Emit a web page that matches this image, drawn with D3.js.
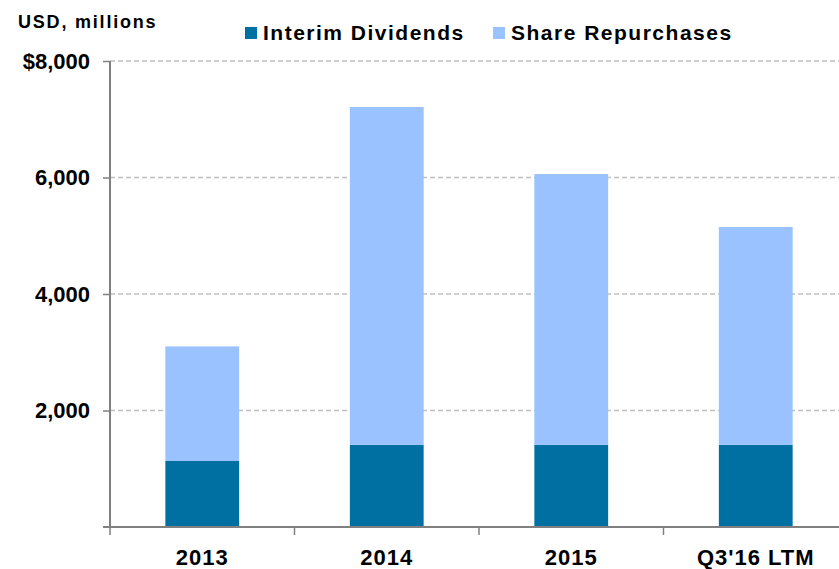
<!DOCTYPE html>
<html>
<head>
<meta charset="utf-8">
<script src="https://cdn.jsdelivr.net/npm/d3@7"></script>
<style>
  body { margin: 0; background: #fff; }
  svg text { font-family: "Liberation Sans", Arial, sans-serif; font-weight: bold; fill: #000; }
</style>
</head>
<body>
<svg id="chart" width="839" height="569"></svg>
<script>
// chart data
const categories = ["2013", "2014", "2015", "Q3'16 LTM"];
const dividends = [1140, 1410, 1410, 1410];
const repurchases = [1960, 5800, 4650, 3740];
const yTicks = [0, 2000, 4000, 6000, 8000];
const seriesNames = ["Interim Dividends", "Share Repurchases"];
const colors = ["#0070A3", "#99C2FF"];

const svg = d3.select("#chart");
const plotLeft = 110, plotRight = 848, plotTop = 61, plotBottom = 527;

const x = d3.scaleBand().domain(categories).range([plotLeft, plotRight]).paddingInner(0.6).paddingOuter(0.3);
const y = d3.scaleLinear().domain([0, 8000]).range([plotBottom, plotTop]);

// stack the two series
const rows = categories.map((c, i) => ({ cat: c, div: dividends[i], rep: repurchases[i] }));
const stack = d3.stack().keys(["div", "rep"])(rows);

// gridlines
svg.append("g")
    .selectAll("line")
    .data(yTicks.filter(d => d > 0))
    .join("line")
    .attr("x1", plotLeft).attr("x2", 839)
    .attr("y1", d => y(d)).attr("y2", d => y(d))
    .attr("stroke", "#c0c0c0")
    .attr("stroke-width", 1.5)
    .attr("stroke-dasharray", "5,3");

// bars
svg.append("g")
    .selectAll("g")
    .data(stack)
    .join("g")
    .attr("fill", (d, i) => colors[i])
    .selectAll("rect")
    .data(d => d)
    .join("rect")
    .attr("x", d => x(d.data.cat))
    .attr("width", x.bandwidth())
    .attr("y", d => y(d[1]))
    .attr("height", d => y(d[0]) - y(d[1]));

// y axis
const yAxis = svg.append("g")
    .attr("transform", `translate(${plotLeft},0)`)
    .call(d3.axisLeft(y).tickValues(yTicks.filter(d => d > 0)).tickSize(7).tickPadding(13)
        .tickFormat(d => (d === 8000 ? "$" : "") + d3.format(",")(d)));
yAxis.select(".domain").remove();
yAxis.append("line").attr("y1", plotTop).attr("y2", plotBottom).attr("stroke", "#808080").attr("stroke-width", 2);
yAxis.selectAll(".tick line").attr("stroke", "#808080").attr("stroke-width", 1.5);
yAxis.selectAll(".tick text").style("font-size", "22px").attr("fill", "#000");

// x axis with ticks at category boundaries
const xAxis = svg.append("g").attr("transform", `translate(0,${plotBottom})`);
xAxis.append("line").attr("x1", plotLeft - 7).attr("x2", 839).attr("stroke", "#808080").attr("stroke-width", 2);
const step = x.step();
xAxis.selectAll("line.tk")
    .data(categories)
    .join("line")
    .attr("class", "tk")
    .attr("x1", d => x(d) - (step - x.bandwidth()) / 2)
    .attr("x2", d => x(d) - (step - x.bandwidth()) / 2)
    .attr("y1", 0).attr("y2", 8)
    .attr("stroke", "#808080").attr("stroke-width", 1.5);
xAxis.selectAll("text")
    .data(categories)
    .join("text")
    .attr("x", d => x(d) + x.bandwidth() / 2)
    .attr("y", 38)
    .attr("text-anchor", "middle")
    .style("font-size", "22px")
    .style("letter-spacing", "1px")
    .text(d => d);

// unit label
svg.append("text").attr("x", 18).attr("y", 28)
    .style("font-size", "18px").style("letter-spacing", "1.8px")
    .text("USD, millions");

// legend
const legendX = [245, 493];
const legend = svg.append("g").selectAll("g")
    .data(seriesNames)
    .join("g")
    .attr("transform", (d, i) => `translate(${legendX[i]},27)`);
legend.append("rect").attr("width", 12).attr("height", 12).attr("fill", (d, i) => colors[i]);
legend.append("text").attr("x", 18).attr("y", 13)
    .style("font-size", "21px").style("letter-spacing", "1.5px")
    .text(d => d);
</script>
</body>
</html>
